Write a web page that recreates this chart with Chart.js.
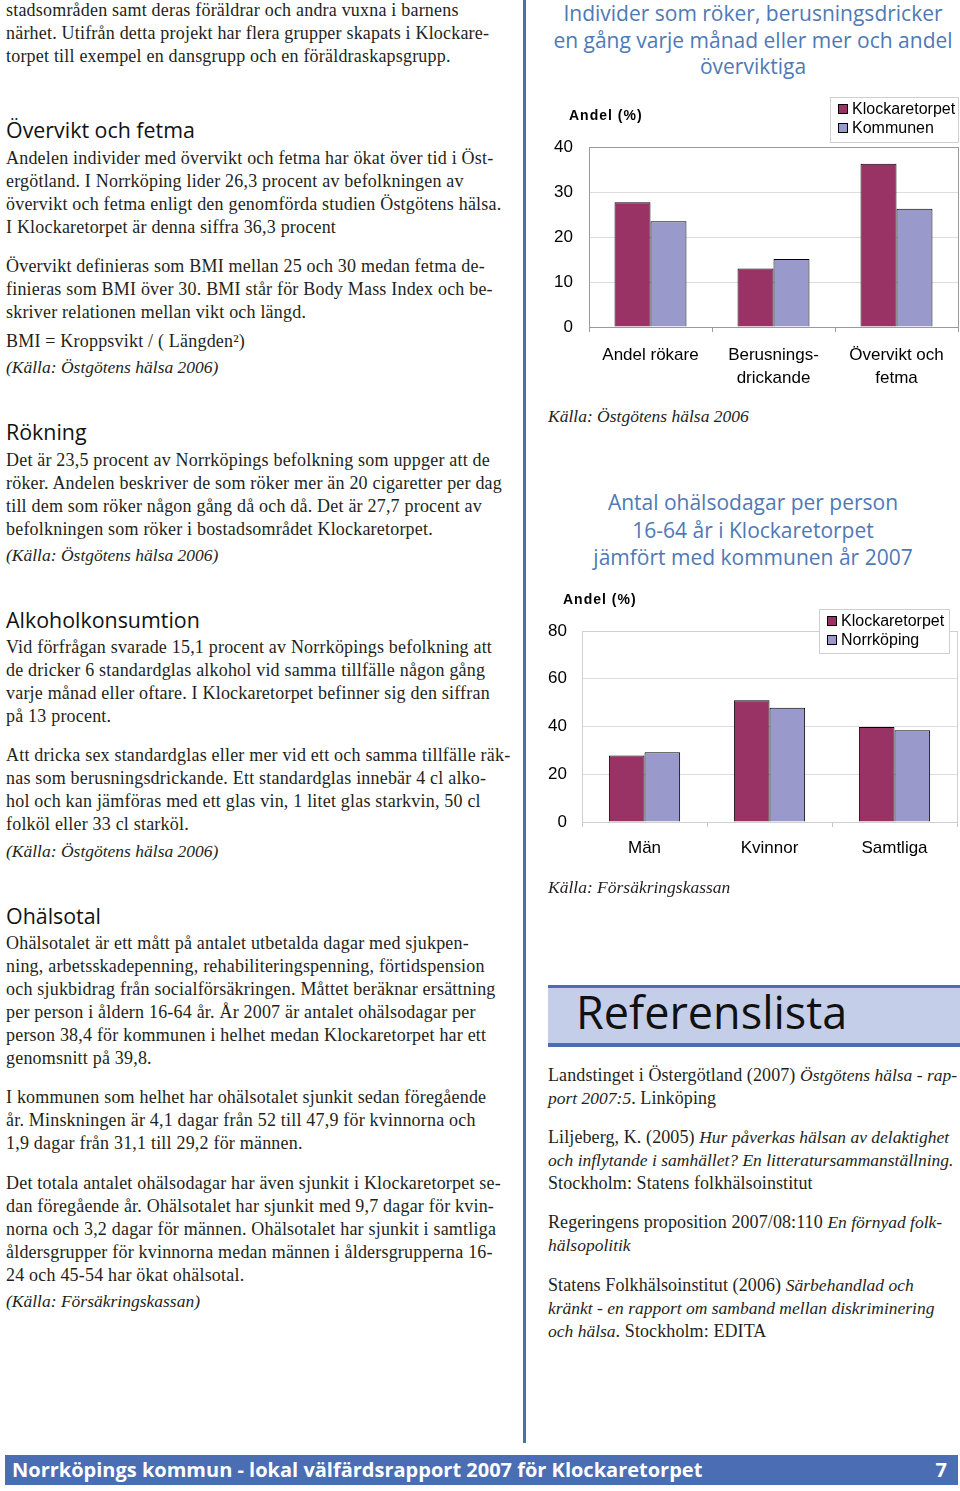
<!DOCTYPE html>
<html lang="sv">
<head>
<meta charset="utf-8">
<title>Klockaretorpet</title>
<script src="https://cdn.jsdelivr.net/npm/chart.js@4.4.1/dist/chart.umd.min.js"></script>
<style>
  html, body { margin: 0; padding: 0; background: #fff; }
  body { width: 960px; height: 1491px; position: relative; overflow: hidden; }
  .t { position: absolute; white-space: nowrap; color: #231f20; }
  .body { font-family: "Liberation Serif", serif; font-size: 18px; letter-spacing: 0.2px; line-height: 23px; left: 6px; }
  .ref { font-family: "Liberation Serif", serif; font-size: 18px; letter-spacing: 0.1px; line-height: 23px; left: 548px; }
  .ref i { font-size: 17.5px; letter-spacing: 0; }
  .h { font-family: "Open Sans", sans-serif; font-size: 21.4px; line-height: 26px; left: 6px; color: #111; }
  .ctitle { font-family: "Open Sans", sans-serif; font-size: 21px; line-height: 27px; color: #4f79b5; text-align: center; width: 420px; left: 543px; }
  .src { font-family: "Liberation Serif", serif; font-style: italic; font-size: 17.5px; letter-spacing: 0; line-height: 23px; }
  .divider { position: absolute; left: 523px; top: 0; width: 3px; height: 1443px; background: #4a6db4; }
  .band { position: absolute; left: 548px; top: 985px; width: 412px; height: 55px; background: #c5cee9; border-top: 3px solid #4a6db4; border-bottom: 4px solid #4a6db4; }
  .band span { position: absolute; left: 28px; top: -7px; font-family: "Open Sans", sans-serif; font-size: 45px; color: #111; }
  .footer { position: absolute; left: 5px; top: 1455px; width: 953px; height: 30px; background: #4a6db4; color: #fff; font-family: "Open Sans", sans-serif; font-weight: bold; font-size: 20px; line-height: 30px; }
  .footer .l { position: absolute; left: 7px; }
  .footer .r { position: absolute; right: 11px; }
  .chartbox { position: absolute; width: 420px; height: 300px; }
</style>
</head>
<body>

<div class="t body" style="top:-1.5px">stadsområden samt deras föräldrar och andra vuxna i barnens<br>närhet. Utifrån detta projekt har flera grupper skapats i Klockare-<br>torpet till exempel en dansgrupp och en föräldraskapsgrupp.</div>

<div class="t h" style="top:117px">Övervikt och fetma</div>
<div class="t body" style="top:146.5px">Andelen individer med övervikt och fetma har ökat över tid i Öst-<br>ergötland. I Norrköping lider 26,3 procent av befolkningen av<br>övervikt och fetma enligt den genomförda studien Östgötens hälsa.<br>I Klockaretorpet är denna siffra 36,3 procent</div>
<div class="t body" style="top:254.5px">Övervikt definieras som BMI mellan 25 och 30 medan fetma de-<br>finieras som BMI över 30. BMI står för Body Mass Index och be-<br>skriver relationen mellan vikt och längd.</div>
<div class="t body" style="top:329.5px">BMI = Kroppsvikt / ( Längden²)</div>
<div class="t body src" style="top:355.5px">(Källa: Östgötens hälsa 2006)</div>

<div class="t h" style="top:419px">Rökning</div>
<div class="t body" style="top:448.5px">Det är 23,5 procent av Norrköpings befolkning som uppger att de<br>röker. Andelen beskriver de som röker mer än 20 cigaretter per dag<br>till dem som röker någon gång då och då. Det är 27,7 procent av<br>befolkningen som röker i bostadsområdet Klockaretorpet.</div>
<div class="t body src" style="top:543.5px">(Källa: Östgötens hälsa 2006)</div>

<div class="t h" style="top:607px">Alkoholkonsumtion</div>
<div class="t body" style="top:635.5px">Vid förfrågan svarade 15,1 procent av Norrköpings befolkning att<br>de dricker 6 standardglas alkohol vid samma tillfälle någon gång<br>varje månad eller oftare. I Klockaretorpet befinner sig den siffran<br>på 13 procent.</div>
<div class="t body" style="top:743.5px">Att dricka sex standardglas eller mer vid ett och samma tillfälle räk-<br>nas som berusningsdrickande. Ett standardglas innebär 4 cl alko-<br>hol och kan jämföras med ett glas vin, 1 litet glas starkvin, 50 cl<br>folköl eller 33 cl starköl.</div>
<div class="t body src" style="top:839.5px">(Källa: Östgötens hälsa 2006)</div>

<div class="t h" style="top:903px">Ohälsotal</div>
<div class="t body" style="top:931.5px">Ohälsotalet är ett mått på antalet utbetalda dagar med sjukpen-<br>ning, arbetsskadepenning, rehabiliteringspenning, förtidspension<br>och sjukbidrag från socialförsäkringen. Måttet beräknar ersättning<br>per person i åldern 16-64 år. År 2007 är antalet ohälsodagar per<br>person 38,4 för kommunen i helhet medan Klockaretorpet har ett<br>genomsnitt på 39,8.</div>
<div class="t body" style="top:1085.5px">I kommunen som helhet har ohälsotalet sjunkit sedan föregående<br>år. Minskningen är 4,1 dagar från 52 till 47,9 för kvinnorna och<br>1,9 dagar från 31,1 till 29,2 för männen.</div>
<div class="t body" style="top:1171.5px">Det totala antalet ohälsodagar har även sjunkit i Klockaretorpet se-<br>dan föregående år. Ohälsotalet har sjunkit med 9,7 dagar för kvin-<br>norna och 3,2 dagar för männen. Ohälsotalet har sjunkit i samtliga<br>åldersgrupper för kvinnorna medan männen i åldersgrupperna 16-<br>24 och 45-54 har ökat ohälsotal.</div>
<div class="t body src" style="top:1289.5px">(Källa: Försäkringskassan)</div>

<div class="divider"></div>

<div class="t ctitle" style="top:0; line-height:26.7px">Individer som röker, berusningsdricker<br>en gång varje månad eller mer och andel<br>överviktiga</div>
<div class="chartbox" style="left:540px; top:95px"><canvas id="chart1"></canvas></div>
<div class="t src" style="left:548px; top:404.5px">Källa: Östgötens hälsa 2006</div>

<div class="t ctitle" style="top:489px; line-height:27.5px">Antal ohälsodagar per person<br>16-64 år i Klockaretorpet<br>jämfört med kommunen år 2007</div>
<div class="chartbox" style="left:540px; top:580px"><canvas id="chart2"></canvas></div>
<div class="t src" style="left:548px; top:875.5px">Källa: Försäkringskassan</div>

<div class="band"><span>Referenslista</span></div>
<div class="t ref" style="top:1063.5px">Landstinget i Östergötland (2007) <i>Östgötens hälsa - rap-<br>port 2007:5</i>. Linköping</div>
<div class="t ref" style="top:1125.5px">Liljeberg, K. (2005) <i>Hur påverkas hälsan av delaktighet<br>och inflytande i samhället? En litteratursammanställning.</i><br>Stockholm: Statens folkhälsoinstitut</div>
<div class="t ref" style="top:1210.5px">Regeringens proposition 2007/08:110 <i>En förnyad folk-<br>hälsopolitik</i></div>
<div class="t ref" style="top:1273.5px">Statens Folkhälsoinstitut (2006) <i>Särbehandlad och<br>kränkt - en rapport om samband mellan diskriminering<br>och hälsa</i>. Stockholm: EDITA</div>

<div class="footer"><span class="l">Norrköpings kommun - lokal välfärdsrapport 2007 för Klockaretorpet</span><span class="r">7</span></div>

<script>
// chart 1: röker, berusningsdricker, övervikt
const categories1 = ['Andel rökare', ['Berusnings-', 'drickande'], ['Övervikt och', 'fetma']];
const klockaretorpet1 = [27.7, 13.0, 36.3];
const kommunen1 = [23.5, 15.1, 26.3];
const yTicks1 = { min: 0, max: 40, step: 10 };

// chart 2: ohälsodagar
const categories2 = ['Män', 'Kvinnor', 'Samtliga'];
const klockaretorpet2 = [27.9, 51.0, 39.8];
const norrkoping2 = [29.2, 47.9, 38.4];
const yTicks2 = { min: 0, max: 80, step: 20 };

const yTitle = 'Andel (%)';
const PLUM = '#993366';
const LILAC = '#9999cc';

Chart.defaults.font.family = '"Liberation Sans", Arial, sans-serif';
Chart.defaults.color = '#000';

// excel-like frame, axis title and legend box
const decor = {
    id: 'decor',
    afterDraw(chart, args, opts) {
        const { ctx, chartArea: a } = chart;
        ctx.save();
        ctx.strokeStyle = opts.frame;
        ctx.lineWidth = 1;
        ctx.strokeRect(Math.round(a.left) + 0.5, Math.round(a.top) + 0.5, Math.round(a.right - a.left), Math.round(a.bottom - a.top));

        ctx.font = 'bold 14px "Liberation Sans", Arial, sans-serif';
        ctx.letterSpacing = '1px';
        ctx.fillStyle = '#000';
        ctx.textBaseline = 'middle';
        ctx.fillText(yTitle, opts.titleX, opts.titleY);
        ctx.letterSpacing = '0px';

        const b = opts.legend;
        ctx.fillStyle = '#fff';
        ctx.fillRect(b.x, b.y, b.w, b.h);
        ctx.strokeStyle = '#cfcfcf';
        ctx.strokeRect(b.x + 0.5, b.y + 0.5, b.w, b.h);
        ctx.font = '16px "Liberation Sans", Arial, sans-serif';
        chart.data.datasets.forEach((ds, i) => {
            const cy = b.y + b.row0 + i * 19;
            ctx.fillStyle = ds.backgroundColor;
            ctx.fillRect(b.x + 8, cy - 5, 10, 10);
            ctx.strokeStyle = '#000';
            ctx.strokeRect(b.x + 8.5, cy - 4.5, 9, 9);
            ctx.fillStyle = '#000';
            ctx.fillText(ds.label, b.x + 22, cy + 1);
        });
        ctx.restore();
    }
};

function makeChart(id, labels, sets, yt, geo) {
    const ctx = document.getElementById(id).getContext('2d');
    return new Chart(ctx, {
        type: 'bar',
        data: {
            labels: labels,
            datasets: sets.map(s => ({
                label: s.label,
                data: s.data,
                backgroundColor: s.color,
                borderColor: '#000',
                borderWidth: 1,
                categoryPercentage: geo.catPct,
                barPercentage: 1
            }))
        },
        options: {
            responsive: true,
            maintainAspectRatio: false,
            animation: false,
            events: [],
            layout: { padding: { top: geo.top, right: geo.right, left: 0, bottom: 0 } },
            plugins: {
                legend: { display: false },
                tooltip: { enabled: false },
                decor: geo.decor
            },
            scales: {
                x: {
                    grid: { offset: true, drawOnChartArea: false, drawTicks: true, tickLength: 5, color: geo.axis },
                    border: { color: geo.axis },
                    ticks: { font: { size: 17, lineHeight: 1.4 }, padding: geo.xPad, maxRotation: 0, autoSkip: false },
                    afterFit: s => { s.height = geo.xHeight; }
                },
                y: {
                    min: yt.min,
                    max: yt.max,
                    ticks: { stepSize: yt.step, font: { size: 17 }, padding: geo.yPad },
                    grid: { color: '#dddddd', drawTicks: false },
                    border: { color: geo.axis },
                    afterFit: s => { s.width = geo.yWidth; }
                }
            }
        },
        plugins: [decor]
    });
}

makeChart('chart1', categories1, [
    { label: 'Klockaretorpet', data: klockaretorpet1, color: PLUM },
    { label: 'Kommunen', data: kommunen1, color: LILAC }
], yTicks1, {
    catPct: 0.585, top: 52, right: 2, yWidth: 49, xHeight: 68, xPad: 11, yPad: 16, axis: '#9a9a9a',
    decor: { frame: '#9a9a9a', titleX: 29, titleY: 21, legend: { x: 290, y: 2, w: 128, h: 45, row0: 12 } }
});

makeChart('chart2', categories2, [
    { label: 'Klockaretorpet', data: klockaretorpet2, color: PLUM },
    { label: 'Norrköping', data: norrkoping2, color: LILAC }
], yTicks2, {
    catPct: 0.57, top: 51, right: 3, yWidth: 42, xHeight: 58, xPad: 9, yPad: 15, axis: '#c4c4c4',
    decor: { frame: '#d0d0d0', titleX: 23, titleY: 20, legend: { x: 279, y: 29, w: 130, h: 44, row0: 12 } }
});
</script>
</body>
</html>
